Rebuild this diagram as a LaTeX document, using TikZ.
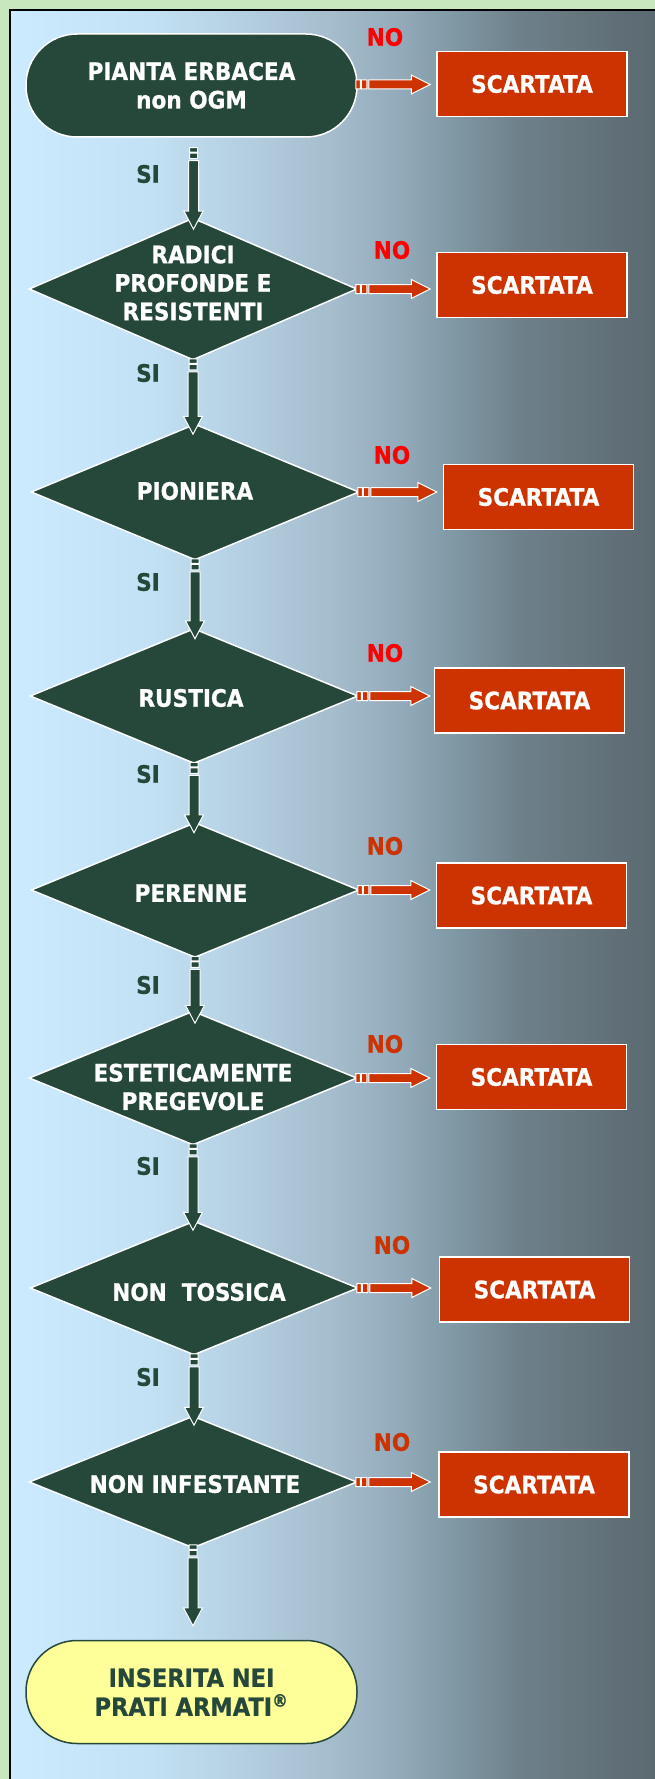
\documentclass[tikz,border=0pt]{standalone}
\usepackage{fontspec}
\setmainfont{DejaVu Sans}[FakeStretch=0.9, BoldFeatures={FakeBold=0.8}]
\usetikzlibrary{shapes.geometric,calc}
\definecolor{dkg}{HTML}{26483A}
\definecolor{scar}{HTML}{CC3300}
\definecolor{nored}{HTML}{FF0000}
\definecolor{bggreen}{HTML}{C9E7BE}
\definecolor{yel}{HTML}{FFFF99}
\definecolor{g0}{HTML}{CCEBFF}
\definecolor{g1}{HTML}{C3E1F4}
\definecolor{g2}{HTML}{B3CEE0}
\definecolor{g3}{HTML}{A5BDCD}
\definecolor{g4}{HTML}{93AABA}
\definecolor{g5}{HTML}{809AA6}
\definecolor{g6}{HTML}{6E808A}
\definecolor{g7}{HTML}{5B6970}
\pgfdeclarehorizontalshading{bgshade}{100bp}{color(0bp)=(g0); color(25bp)=(g0); color(35.85bp)=(g1); color(43.6bp)=(g2); color(49.8bp)=(g3); color(55.2bp)=(g4); color(59.1bp)=(g5); color(64.5bp)=(g6); color(75bp)=(g7); color(100bp)=(g7)}
\tikzset{
  term/.style={draw=white, line width=1.5pt, fill=dkg, rounded corners=51pt, minimum width=331pt, minimum height=103pt, inner sep=0pt, text=white, align=center},
  dia/.style={diamond, draw=white, line width=1.5pt, fill=dkg, inner sep=0pt, minimum width=328pt, minimum height=#1},
  lab/.style={text=white, align=center, inner sep=0pt},
  scbox/.style={draw=white, line width=1.5pt, fill=scar, minimum width=190pt, minimum height=65pt, text=white, inner sep=0pt},
  silab/.style={text=dkg, inner sep=0pt},
  nolab/.style={text=#1, inner sep=0pt},
  vconnstyle/.style={draw=white, line width=1pt, fill=dkg},
  hconnstyle/.style={draw=white, line width=1pt, fill=scar},
}
\newcommand{\vconn}[2]{%
  \path[vconnstyle] let \p1=(#1), \p2=(#2) in
    (\x1-4pt,\y1) rectangle (\x1+4pt,\y1-4.5pt)
    (\x1-4pt,\y1-5.5pt) rectangle (\x1+4pt,\y1-11pt)
    (\x1-5pt,\y1-13pt) -- (\x1-5pt,\y2+18pt) -- (\x1-9.5pt,\y2+18pt) -- (\x1,\y2) -- (\x1+9.5pt,\y2+18pt) -- (\x1+5pt,\y2+18pt) -- (\x1+5pt,\y1-13pt) -- cycle;}
\newcommand{\hconn}[2]{%
  \path[hconnstyle] let \p1=(#1), \p2=(#2) in
    (\x1,\y1-4.5pt) rectangle (\x1+4.5pt,\y1+4.5pt)
    (\x1+5.5pt,\y1-4.5pt) rectangle (\x1+11pt,\y1+4.5pt)
    (\x1+13pt,\y1-4.5pt) -- (\x2-19pt,\y1-4.5pt) -- (\x2-19pt,\y1-9.5pt) -- (\x2,\y1) -- (\x2-19pt,\y1+9.5pt) -- (\x2-19pt,\y1+4.5pt) -- (\x1+13pt,\y1+4.5pt) -- cycle;}
\begin{document}
\begin{tikzpicture}[x=1pt,y=-1pt,font=\bfseries\fontsize{24}{28.5}\selectfont]
\useasboundingbox (0,0) rectangle (655,1779);
\fill[bggreen] (0,0) rectangle (655,1779);
\shade[shading=bgshade] (10,10) rectangle (655,1779);
\draw[black,line width=1.5pt] (9.75,1779) -- (9.75,10.25) -- (655,10.25);

% nodes
\node[term] (t1) at (191.5,85.5) {PIANTA ERBACEA\\non OGM};
\node[dia=142pt] (d2) at (193,289) {};
\node[lab] at (193,283) {RADICI\\PROFONDE E\\RESISTENTI};
\node[dia=136pt] (d3) at (195,492) {};
\node[lab] at (195,491) {PIONIERA};
\node[dia=135pt] (d4) at (194,696) {};
\node[lab] at (191,698) {RUSTICA};
\node[dia=135pt] (d5) at (195,890) {};
\node[lab] at (191,893) {PERENNE};
\node[dia=134pt] (d6) at (193,1078) {};
\node[lab] at (193,1087) {ESTETICAMENTE\\PREGEVOLE};
\node[dia=134pt] (d7) at (194,1288) {};
\node[lab] at (199,1292) {NON\ \ TOSSICA};
\node[dia=132pt] (d8) at (193,1482) {};
\node[lab] at (195,1484) {NON INFESTANTE};
\node[term, fill=yel, draw=dkg, text=dkg, font=\bfseries\fontsize{25}{29}\selectfont] (t9) at (191.5,1692) {INSERITA NEI\\PRATI ARMATI\textsuperscript{®}};

% scartata boxes
\node[scbox] (s1) at (532,84) {SCARTATA};
\node[scbox] (s2) at (532,285) {SCARTATA};
\node[scbox] (s3) at (538.5,497) {SCARTATA};
\node[scbox] (s4) at (529.5,700.5) {SCARTATA};
\node[scbox] (s5) at (531.5,895.5) {SCARTATA};
\node[scbox] (s6) at (531.5,1077) {SCARTATA};
\node[scbox] (s7) at (534.5,1289.5) {SCARTATA};
\node[scbox] (s8) at (534,1484.5) {SCARTATA};

% labels
\node[nolab=nored] (n1) at (385,37) {NO};
\node[nolab=nored] (n2) at (392,250) {NO};
\node[nolab=nored] (n3) at (392,455) {NO};
\node[nolab=nored] (n4) at (385,653) {NO};
\node[nolab=scar] (n5) at (385,846) {NO};
\node[nolab=scar] (n6) at (385,1044) {NO};
\node[nolab=scar] (n7) at (392,1245) {NO};
\node[nolab=scar] (n8) at (392,1442) {NO};
\node[silab] (y1) at (148,174) {SI};
\node[silab] (y2) at (148,373) {SI};
\node[silab] (y3) at (148,582) {SI};
\node[silab] (y4) at (148,774) {SI};
\node[silab] (y5) at (148,985) {SI};
\node[silab] (y6) at (148,1166) {SI};
\node[silab] (y7) at (148,1377) {SI};

% vertical connectors
\vconn{$(t1.south)+(2,10)$}{$(d2.north)+(0,12)$}
\vconn{$(d2.south)+(0,-2)$}{$(d3.north)+(0,11)$}
\vconn{$(d3.south)+(0,-2)$}{$(d4.north)+(0,11)$}
\vconn{$(d4.south)+(0,-2)$}{$(d5.north)+(0,11)$}
\vconn{$(d5.south)+(0,-2)$}{$(d6.north)+(0,13)$}
\vconn{$(d6.south)+(0,-2)$}{$(d7.north)+(0,10)$}
\vconn{$(d7.south)+(0,-2)$}{$(d8.north)+(0,10)$}
\vconn{$(d8.south)+(0,-4)$}{$(t9.north)+(0,-14)$}

% horizontal connectors
\hconn{$(t1.east)+(-2,-1)$}{$(s1.west)+(-6,0)$}
\hconn{$(d2.east)+(-2,0)$}{$(s2.west)+(-6,0)$}
\hconn{$(d3.east)+(-2,0)$}{$(s3.west)+(-6,0)$}
\hconn{$(d4.east)+(-2,0)$}{$(s4.west)+(-4,0)$}
\hconn{$(d5.east)+(-2,0)$}{$(s5.west)+(-6,0)$}
\hconn{$(d6.east)+(-2,0)$}{$(s6.west)+(-6,0)$}
\hconn{$(d7.east)+(-2,0)$}{$(s7.west)+(-8,0)$}
\hconn{$(d8.east)+(-2,0)$}{$(s8.west)+(-8,0)$}
\end{tikzpicture}
\end{document}
